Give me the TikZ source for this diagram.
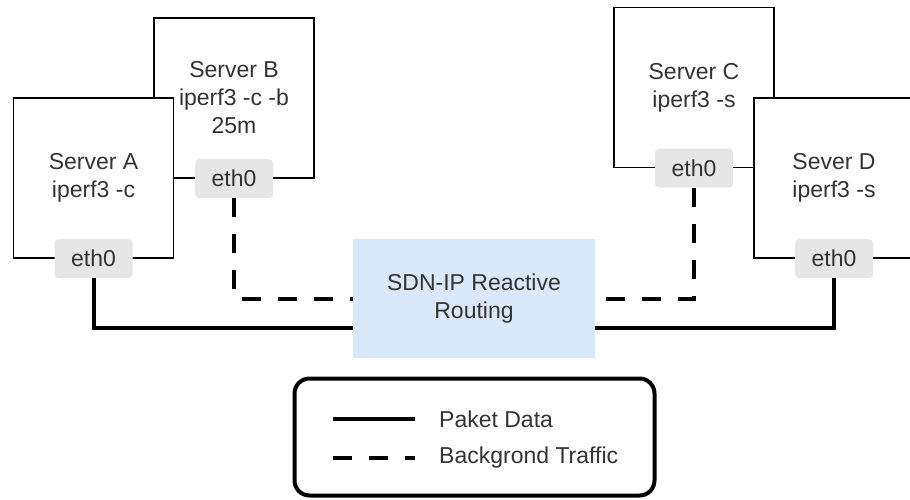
\documentclass[tikz,border=0pt]{standalone}
\usepackage{fontspec}
\setmainfont{Liberation Sans}
\usepackage{xcolor}
\usepackage{tikz}
\usetikzlibrary{positioning}
\definecolor{txt}{HTML}{333333}
\definecolor{ethgray}{HTML}{E6E6E6}
\definecolor{sdnblue}{HTML}{DAE8FC}
\newcommand{\diafont}{\fontsize{23}{28}\selectfont}
\tikzset{
  server/.style={draw=black, line width=1.3pt, fill=white, minimum width=160pt, minimum height=160pt, inner sep=0pt, align=center, text=txt, font=\diafont},
  ethtag/.style={fill=ethgray, rounded corners=4pt, minimum width=78pt, minimum height=39pt, inner sep=0pt, text=txt, font=\diafont},
  sdnbox/.style={fill=sdnblue, minimum width=242pt, minimum height=119pt, inner sep=0pt, align=center, text=txt, font=\diafont},
  legendbox/.style={draw=black, line width=4pt, rounded corners=15pt, minimum width=360pt, minimum height=117pt},
  paket/.style={draw=black, line width=4pt},
  bgtraffic/.style={draw=black, line width=4pt, dash pattern=on 19pt off 17pt},
  lbl/.style={text=txt, font=\diafont, anchor=west, inner sep=0pt}
}
\begin{document}
\begin{tikzpicture}[x=1pt, y=-1pt]
  \useasboundingbox (0,0) rectangle (910,499);
  \clip (0,0) rectangle (910,499);

  % servers, back ones first
  \node[server] (srvB) at (234,98) {Server B\\iperf3 -c -b\\25m};
  \node[ethtag] (ethB) at (srvB.south) {eth0};
  \node[server] (srvA) at (93.5,178) {Server A\\iperf3 -c};
  \node[ethtag] (ethA) at (srvA.south) {eth0};
  \node[server] (srvC) at (694,87.5) {Server C\\iperf3 -s};
  \node[ethtag] (ethC) at (srvC.south) {eth0};
  \node[server] (srvD) at (834,178) {Sever D\\iperf3 -s};
  \node[ethtag] (ethD) at (srvD.south) {eth0};

  \node[sdnbox] (sdn) at (474,298.5) {SDN-IP Reactive\\Routing};

  % links
  \draw[paket] (ethA.south) |- ([yshift=-29.5pt]sdn.west);
  \draw[paket] (ethD.south) |- ([yshift=-29.5pt]sdn.east);
  \draw[bgtraffic] (ethB.south) |- (sdn.west);
  \draw[bgtraffic] (ethC.south) |- (sdn.east);

  % legend
  \node[legendbox] (legend) at (474.5,437) {};
  \coordinate (s1) at (333,419);
  \coordinate (s2) at (415,419);
  \coordinate (d1) at (333,458);
  \coordinate (d2) at (415,458);
  \draw[paket] (s1) -- (s2);
  \draw[bgtraffic] (d1) -- (d2);
  \node[lbl] (lpaket) at (439,419) {Paket Data};
  \node[lbl] (lbg) at (439,458) {Backgrond Traffic};
\end{tikzpicture}
\end{document}
